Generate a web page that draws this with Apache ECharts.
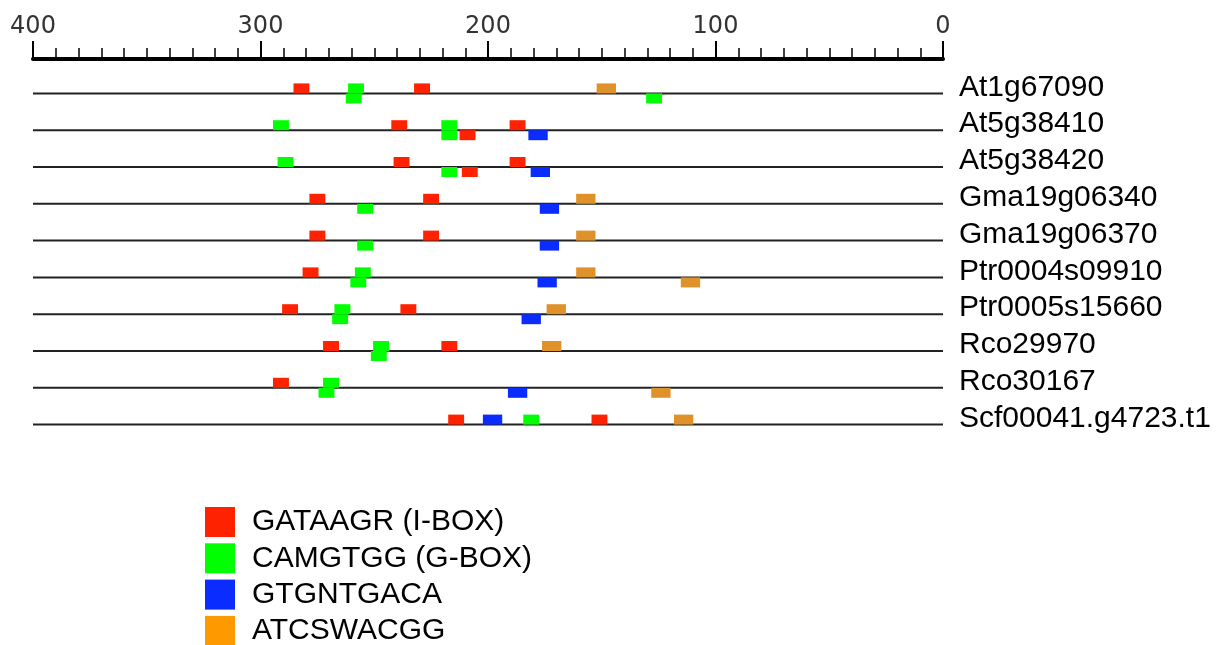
<!DOCTYPE html>
<html>
<head>
<meta charset="utf-8">
<script src="https://cdn.jsdelivr.net/npm/echarts@6/dist/echarts.min.js"></script>
<style>
html,body{margin:0;padding:0;background:#fff;}
#chart{width:1223px;height:645px;}
</style>
</head>
<body>
<div id="chart"></div>
<script>
// Gene / promoter names (top to bottom)
var genes = ['At1g67090','At5g38410','At5g38420','Gma19g06340','Gma19g06370',
  'Ptr0004s09910','Ptr0005s15660','Rco29970','Rco30167','Scf00041.g4723.t1'];

// Motif names and lengths (bp)
var motifNames = ['GATAAGR (I-BOX)','CAMGTGG (G-BOX)','GTGNTGACA','ATCSWACGG'];
var motifLengths = [7, 7, 8.5, 8.5];

// Axis tick labels
var axisTicks = [0, 100, 200, 300, 400];

// Sites: [gene index, centre position (bp upstream), strand (+1 above / -1 below)]
var iboxSites = [
  [0,282,1],[0,229,1],
  [1,239,1],[1,209,-1],[1,187,1],
  [2,238,1],[2,208,-1],[2,187,1],
  [3,275,1],[3,225,1],
  [4,275,1],[4,225,1],
  [5,278,1],
  [6,287,1],[6,235,1],
  [7,269,1],[7,217,1],
  [8,291,1],
  [9,214,1],[9,151,1]
];
var gboxSites = [
  [0,258,1],[0,259,-1],[0,127,-1],
  [1,291,1],[1,217,1],[1,217,-1],
  [2,289,1],[2,217,-1],
  [3,254,-1],
  [4,254,-1],
  [5,255,1],[5,257,-1],
  [6,264,1],[6,265,-1],
  [7,247,1],[7,248,-1],
  [8,269,1],[8,271,-1],
  [9,181,1]
];
var gtgSites = [
  [1,178,-1],
  [2,177,-1],
  [3,173,-1],
  [4,173,-1],
  [5,174,-1],
  [6,181,-1],
  [8,187,-1],
  [9,198,1]
];
var atcSites = [
  [0,148,1],
  [3,157,1],
  [4,157,1],
  [5,157,1],[5,111,-1],
  [6,170,1],
  [7,172,1],
  [8,124,-1],
  [9,114,1]
];

var siteSets = [iboxSites, gboxSites, gtgSites, atcSites];
var legendColors = ['#ff2200','#00ff00','#0a2cff','#ff9900'];
var boxColors = ['#ff2200','#00ff00','#0a2cff','#e0922a'];

var chart = echarts.init(document.getElementById('chart'));

function makeBoxRender(mi){
  return function(params, api){
    var pos = api.value(1), cat = api.value(0), strand = api.value(2);
    var half = motifLengths[mi] / 2;
    var p1 = api.coord([pos + half, cat]);
    var p2 = api.coord([pos - half, cat]);
    var x = Math.min(p1[0], p2[0]);
    var w = Math.abs(p2[0] - p1[0]);
    var h = 10;
    var y = strand > 0 ? p1[1] - h : p1[1];
    return {
      type: 'rect',
      shape: {x: x, y: y, width: w, height: h},
      style: {fill: boxColors[mi]}
    };
  };
}

var series = [{
  type: 'custom',
  name: 'backbone',
  silent: true,
  z: 1,
  data: genes.map(function(g, i){ return [i]; }),
  encode: {y: 0},
  renderItem: function(params, api){
    var i = api.value(0);
    var a = api.coord([400, i]);
    var b = api.coord([0, i]);
    return {
      type: 'line',
      shape: {x1: a[0], y1: a[1], x2: b[0], y2: b[1]},
      style: {stroke: '#222', lineWidth: 2}
    };
  }
}];

siteSets.forEach(function(sites, mi){
  series.push({
    type: 'custom',
    name: motifNames[mi],
    color: legendColors[mi],
    z: 2,
    data: sites.map(function(s){ return [s[0], s[1], s[2]]; }),
    encode: {y: 0, x: 1},
    renderItem: makeBoxRender(mi)
  });
});

var legends = motifNames.map(function(name, i){
  return {
    data: [name],
    orient: 'vertical',
    left: 205, top: 507 + i * 36.3,
    padding: 0,
    icon: 'rect',
    itemWidth: 30, itemHeight: 30,
    textStyle: {fontSize: 30, color: '#000', fontFamily: 'Liberation Sans', padding: [0,0,0,12]}
  };
});

chart.setOption({
  animation: false,
  backgroundColor: '#fff',
  grid: {left: 33, right: 280, top: 75, height: 368},
  xAxis: {
    type: 'value',
    position: 'top',
    inverse: true,
    min: 0, max: 400, interval: 100,
    offset: 16,
    axisLine: {show: true, lineStyle: {color: '#000', width: 4}},
    axisTick: {show: true, length: 18, lineStyle: {color: '#000', width: 2}},
    minorTick: {show: true, splitNumber: 10, length: 11, lineStyle: {color: '#000', width: 1.5}},
    splitLine: {show: false},
    axisLabel: {
      fontSize: 24, color: '#333', margin: 20, fontFamily: 'DejaVu Sans',
      formatter: function(v){ return axisTicks.indexOf(v) >= 0 ? String(v) : ''; }
    }
  },
  yAxis: {
    type: 'category',
    data: genes,
    inverse: true,
    position: 'right',
    axisLine: {show: false},
    axisTick: {show: false},
    splitLine: {show: false},
    axisLabel: {
      interval: 0, hideOverlap: false,
      align: 'left', verticalAlign: 'bottom', lineHeight: 12,
      margin: 16, fontSize: 30, color: '#000',
      fontFamily: 'Liberation Sans'
    }
  },
  legend: legends,
  series: series
});
</script>
</body>
</html>
